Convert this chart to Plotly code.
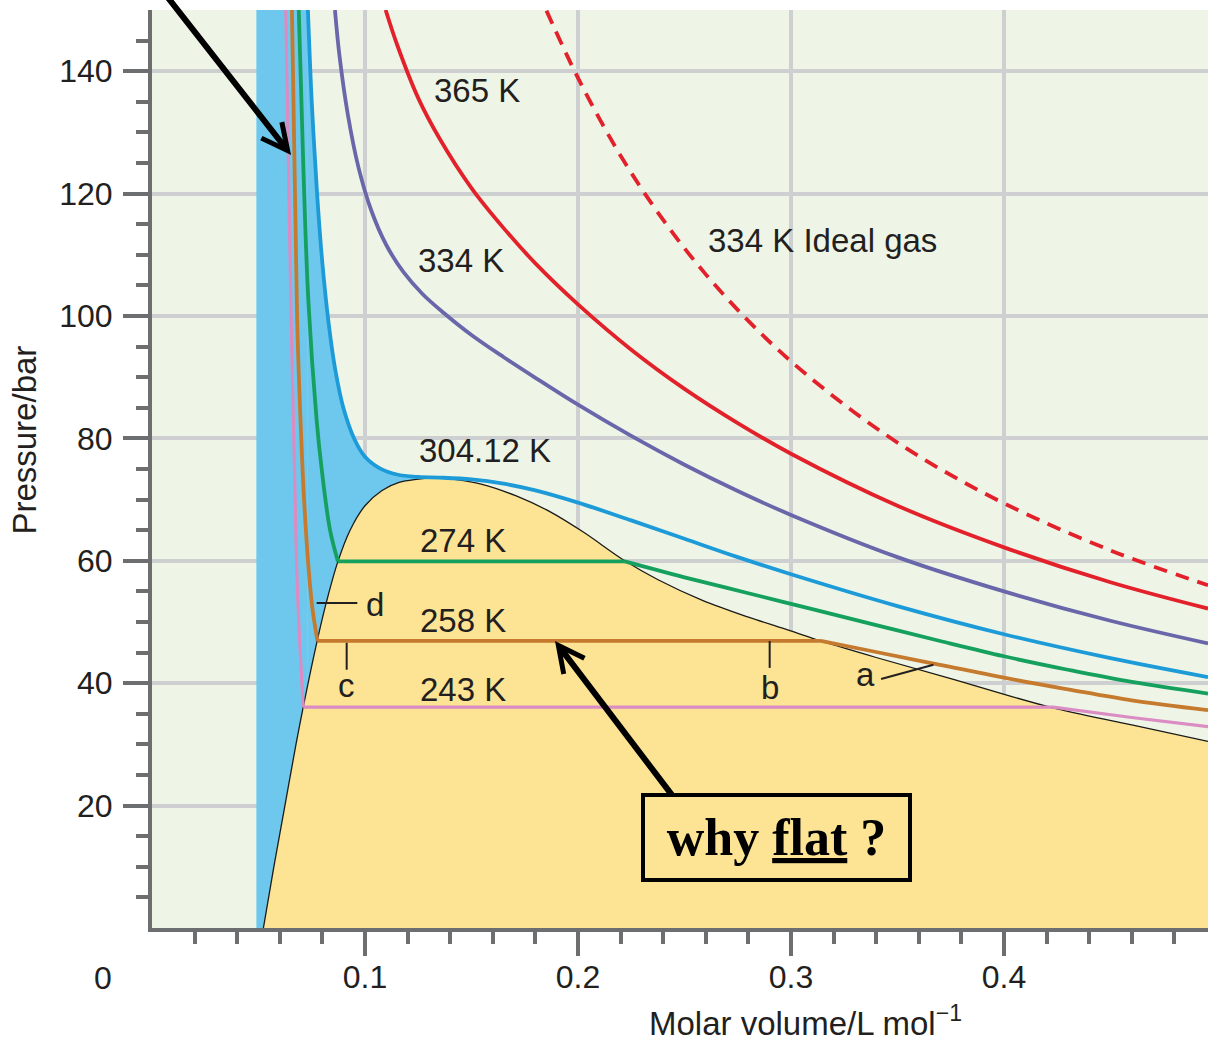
import plotly.graph_objects as go

# ---------------- data (molar volume in L/mol, pressure in bar) ----------------
# Saturation boundary (liquid side -> critical point -> vapour side)
V_SAT = [0.0523, 0.0572, 0.0624, 0.0676, 0.0710, 0.0776, 0.0820, 0.0873, 0.0930, 0.1000,
         0.1080, 0.1160, 0.1240, 0.1320, 0.1420, 0.1550, 0.1710, 0.1870, 0.2025, 0.2220,
         0.2376, 0.2587, 0.2800, 0.2995, 0.3140, 0.3400, 0.3746, 0.4216, 0.4600, 0.4958]
P_SAT = [0.0, 10.0, 20.0, 30.0, 36.1, 47.0, 53.4, 59.9, 65.0, 69.0,
         71.5, 72.8, 73.3, 73.5, 73.3, 72.5, 70.6, 68.0, 64.7, 60.0,
         56.9, 53.5, 50.8, 48.6, 46.9, 44.2, 40.8, 36.1, 33.2, 30.5]

# left edge of the shaded liquid region
V_LIQ_EDGE = 0.049

# 243 K isotherm
V_243_LIQ = [0.0628, 0.0653, 0.0669, 0.0683, 0.0710]
P_243_LIQ = [150.0, 100.0, 75.0, 55.0, 36.1]
V_243_GAS = [0.4230, 0.4600, 0.4958]
P_243_GAS = [36.1, 34.4, 32.9]

# 258 K isotherm
V_258_LIQ = [0.0657, 0.0681, 0.0695, 0.0714, 0.0737, 0.0754, 0.0777]
P_258_LIQ = [150.0, 100.0, 85.0, 70.0, 58.0, 52.0, 46.9]
V_258_GAS = [0.3140, 0.3400, 0.3700, 0.4000, 0.4300, 0.4600, 0.4958]
P_258_GAS = [46.9, 45.1, 43.0, 40.9, 39.0, 37.2, 35.6]

# 274 K isotherm
V_274_LIQ = [0.0689, 0.0710, 0.0734, 0.0773, 0.0797, 0.0836, 0.0873]
P_274_LIQ = [150.0, 125.0, 102.6, 83.0, 74.9, 65.0, 59.9]
V_274_GAS = [0.2220, 0.2500, 0.2800, 0.3100, 0.3400, 0.3700, 0.4000, 0.4300, 0.4600, 0.4958]
P_274_GAS = [59.9, 57.3, 54.7, 52.1, 49.5, 46.9, 44.4, 42.2, 40.2, 38.3]

# 304.12 K (critical) isotherm
V_304 = [0.0732, 0.0750, 0.0775, 0.0800, 0.0830, 0.0860, 0.0900, 0.0950, 0.1000, 0.1070,
         0.1150, 0.1250, 0.1350, 0.1500, 0.1650, 0.1800, 0.2000, 0.2250, 0.2500, 0.2750,
         0.3000, 0.3500, 0.4000, 0.4500, 0.4958]
P_304 = [150.0, 135.0, 120.0, 108.6, 98.6, 91.3, 84.8, 79.9, 77.0, 75.1,
         74.1, 73.7, 73.6, 73.3, 72.6, 71.5, 69.5, 66.6, 63.6, 60.6,
         57.8, 52.6, 48.0, 44.1, 41.0]

# 334 K isotherm
V_334 = [0.0859, 0.0880, 0.0920, 0.0970, 0.1030, 0.1100, 0.1180, 0.1270, 0.1370, 0.1500,
         0.1650, 0.1800, 0.2000, 0.2250, 0.2500, 0.2750, 0.3000, 0.3500, 0.4000, 0.4500,
         0.4958]
P_334 = [150.0, 142.6, 132.8, 124.2, 117.2, 111.6, 107.2, 103.6, 100.5, 96.9,
         93.3, 89.9, 85.5, 80.4, 75.7, 71.4, 67.5, 60.6, 55.0, 50.2,
         46.5]

# 365 K isotherm
V_365 = [0.1097, 0.1150, 0.1250, 0.1350, 0.1500, 0.1650, 0.1800, 0.2000, 0.2250, 0.2500,
         0.2750, 0.3000, 0.3500, 0.4000, 0.4500, 0.4958]
P_365 = [150.0, 144.4, 135.6, 129.0, 120.9, 114.4, 108.6, 101.9, 94.5, 88.1,
         82.5, 77.5, 69.0, 62.2, 56.5, 52.2]

# 334 K ideal gas
V_IDEAL = [0.1852, 0.2000, 0.2200, 0.2400, 0.2600, 0.2800, 0.3000, 0.3300, 0.3600, 0.4000,
           0.4500, 0.4958]
P_IDEAL = [149.9, 138.9, 126.2, 115.7, 106.8, 99.2, 92.6, 84.2, 77.1, 69.4,
           61.7, 56.0]

# curve labels
LABEL_TEXT = ["365 K", "334 K", "334 K Ideal gas", "304.12 K", "274 K", "258 K", "243 K",
              "d", "c", "b", "a"]
LABEL_V = [0.1526, 0.1451, 0.3150, 0.1563, 0.1460, 0.1460, 0.1460, 0.1047, 0.0915, 0.2900, 0.3352]
LABEL_P = [136.9, 109.1, 112.4, 78.0, 63.3, 50.2, 38.9, 52.9, 39.6, 39.3, 41.4]

# leader lines for the point labels a-d
LEADERS = {
    "d": ([0.0773, 0.0964], [53.1, 53.1]),
    "c": ([0.0914, 0.0914], [46.6, 42.2]),
    "b": ([0.2900, 0.2900], [46.9, 42.5]),
    "a": ([0.3423, 0.3669], [40.7, 43.0]),
}

X_TICKS = [0.1, 0.2, 0.3, 0.4]
X_MINOR = [0.02, 0.04, 0.06, 0.08, 0.12, 0.14, 0.16, 0.18, 0.22, 0.24, 0.26, 0.28,
           0.32, 0.34, 0.36, 0.38, 0.42, 0.44, 0.46, 0.48]
Y_TICKS = [20, 40, 60, 80, 100, 120, 140]
Y_MINOR = [5, 10, 15, 25, 30, 35, 45, 50, 55, 65, 70, 75, 85, 90, 95,
           105, 110, 115, 125, 130, 135, 145]

X_MAX = 0.4958
Y_MAX = 150

# ---------------- styling ----------------
BG = "#EEF5E7"
BLUE_FILL = "#6EC8EE"
YELLOW_FILL = "#FCE494"
GRID = "#CDCFD1"
AXIS = "#6D6E70"
TXT = "#231F20"
C243 = "#DA8CC3"
C258 = "#C67A2E"
C274 = "#15A05E"
C304 = "#1C9BD8"
C334 = "#6966AA"
C365 = "#E3212B"
LW = 3.8
SANS = "Liberation Sans, Arial, sans-serif"

fig = go.Figure()

# liquid region (blue): strip left of the critical isotherm plus area under it
fig.add_trace(go.Scatter(x=[V_LIQ_EDGE, V_304[0]], y=[P_304[0], P_304[0]],
                         mode="none", fill="tozeroy", fillcolor=BLUE_FILL,
                         hoverinfo="skip", showlegend=False))
peak_v = V_SAT[P_SAT.index(max(P_SAT))]
n_blue = next(i for i, v in enumerate(V_304) if v >= peak_v) + 1
fig.add_trace(go.Scatter(x=V_304[:n_blue], y=P_304[:n_blue], mode="lines",
                         line=dict(width=0, shape="spline", color=BLUE_FILL),
                         fill="tozeroy", fillcolor=BLUE_FILL,
                         hoverinfo="skip", showlegend=False))

# two-phase region (yellow) bounded by the saturation curve
fig.add_trace(go.Scatter(x=V_SAT, y=P_SAT, mode="lines",
                         line=dict(width=1.3, color="#1a1a1a", shape="spline"),
                         fill="tozeroy", fillcolor=YELLOW_FILL,
                         hoverinfo="skip", showlegend=False))


def curve(x, y, color, width=LW, dash=None):
    fig.add_trace(go.Scatter(x=x, y=y, mode="lines",
                             line=dict(width=width, color=color, shape="spline", dash=dash),
                             hoverinfo="skip", showlegend=False))


def tie(x0, x1, p, color, width=LW):
    fig.add_trace(go.Scatter(x=[x0, x1], y=[p, p], mode="lines",
                             line=dict(width=width, color=color),
                             hoverinfo="skip", showlegend=False))


curve(V_IDEAL, P_IDEAL, C365, dash="14px,9px")
curve(V_365, P_365, C365)
curve(V_334, P_334, C334)
curve(V_304, P_304, C304)

for v_liq, p_liq, v_gas, p_gas, col, w in [
    (V_274_LIQ, P_274_LIQ, V_274_GAS, P_274_GAS, C274, LW),
    (V_258_LIQ, P_258_LIQ, V_258_GAS, P_258_GAS, C258, LW),
    (V_243_LIQ, P_243_LIQ, V_243_GAS, P_243_GAS, C243, 3.2),
]:
    curve(v_liq, p_liq, col, width=w)
    tie(v_liq[-1], v_gas[0], p_liq[-1], col, width=w)
    curve(v_gas, p_gas, col, width=w)

# leader lines
for vx, py in LEADERS.values():
    fig.add_trace(go.Scatter(x=vx, y=py, mode="lines",
                             line=dict(width=2, color=TXT),
                             hoverinfo="skip", showlegend=False))

annotations = []
for t, v, p in zip(LABEL_TEXT, LABEL_V, LABEL_P):
    annotations.append(dict(x=v, y=p, xref="x", yref="y", text=t, showarrow=False,
                            font=dict(family=SANS, size=33, color=TXT),
                            xanchor="center", yanchor="middle"))

# origin label
annotations.append(dict(x=-0.0464, y=-0.054, xref="paper", yref="paper", text="0",
                        showarrow=False, font=dict(family=SANS, size=32, color=TXT),
                        xanchor="center", yanchor="middle"))

# axis titles
annotations.append(dict(x=-0.1203, y=0.532, xref="paper", yref="paper",
                        text="Pressure/bar", textangle=-90, showarrow=False,
                        font=dict(family=SANS, size=33, color=TXT),
                        xanchor="center", yanchor="middle"))
annotations.append(dict(x=0.619, y=-0.1015, xref="paper", yref="paper",
                        text="Molar volume/L mol<sup>\u22121</sup>", showarrow=False,
                        font=dict(family=SANS, size=33, color=TXT),
                        xanchor="center", yanchor="middle"))

# arrow to the liquid branch
annotations.append(dict(x=0.0653, y=126.3, xref="x", yref="y",
                        ax=0.0055, ay=152.9, axref="x", ayref="y",
                        text="", showarrow=True, arrowhead=5, arrowsize=0.85,
                        arrowwidth=6, arrowcolor="black", standoff=0))
# question box with arrow to the flat segment
annotations.append(dict(x=0.1892, y=46.9, xref="x", yref="y",
                        ax=0.2446, ay=21.5, axref="x", ayref="y",
                        text="", showarrow=True, arrowhead=5, arrowsize=0.85,
                        arrowwidth=6, arrowcolor="black", standoff=0))
annotations.append(dict(x=0.2931, y=14.86, xref="x", yref="y",
                        text="<b>why <u>flat</u> ?</b>", showarrow=False,
                        font=dict(family="Liberation Serif, Times New Roman, serif",
                                  size=52, color="black"),
                        bordercolor="black", borderwidth=4, borderpad=2,
                        width=259, height=77, bgcolor="rgba(0,0,0,0)",
                        xanchor="center", yanchor="middle"))

fig.update_layout(
    width=1208, height=1041,
    margin=dict(l=152, r=0, t=10, b=113),
    paper_bgcolor="white", plot_bgcolor=BG,
    showlegend=False,
    annotations=annotations,
)

fig.update_xaxes(
    range=[0, X_MAX], tickvals=X_TICKS, ticktext=[f"{v:.1f}" for v in X_TICKS],
    ticks="outside", ticklen=24, tickwidth=3.5, tickcolor=AXIS,
    showline=True, linewidth=4, linecolor=AXIS,
    showgrid=True, gridcolor=GRID, gridwidth=3.5, zeroline=False,
    tickfont=dict(family=SANS, size=32, color=TXT), ticklabelstandoff=-6,
    minor=dict(tickvals=X_MINOR, ticks="outside", ticklen=12, tickwidth=3.5,
               tickcolor=AXIS, showgrid=False),
)
fig.update_yaxes(
    range=[0, Y_MAX], tickvals=Y_TICKS,
    ticks="outside", ticklen=25, tickwidth=3.5, tickcolor=AXIS,
    showline=True, linewidth=4, linecolor=AXIS,
    showgrid=True, gridcolor=GRID, gridwidth=3.5, zeroline=False,
    tickfont=dict(family=SANS, size=32, color=TXT), ticklabelstandoff=4,
    minor=dict(tickvals=Y_MINOR, ticks="outside", ticklen=12, tickwidth=3.5,
               tickcolor=AXIS, showgrid=False),
)

fig.write_html("out.html")
